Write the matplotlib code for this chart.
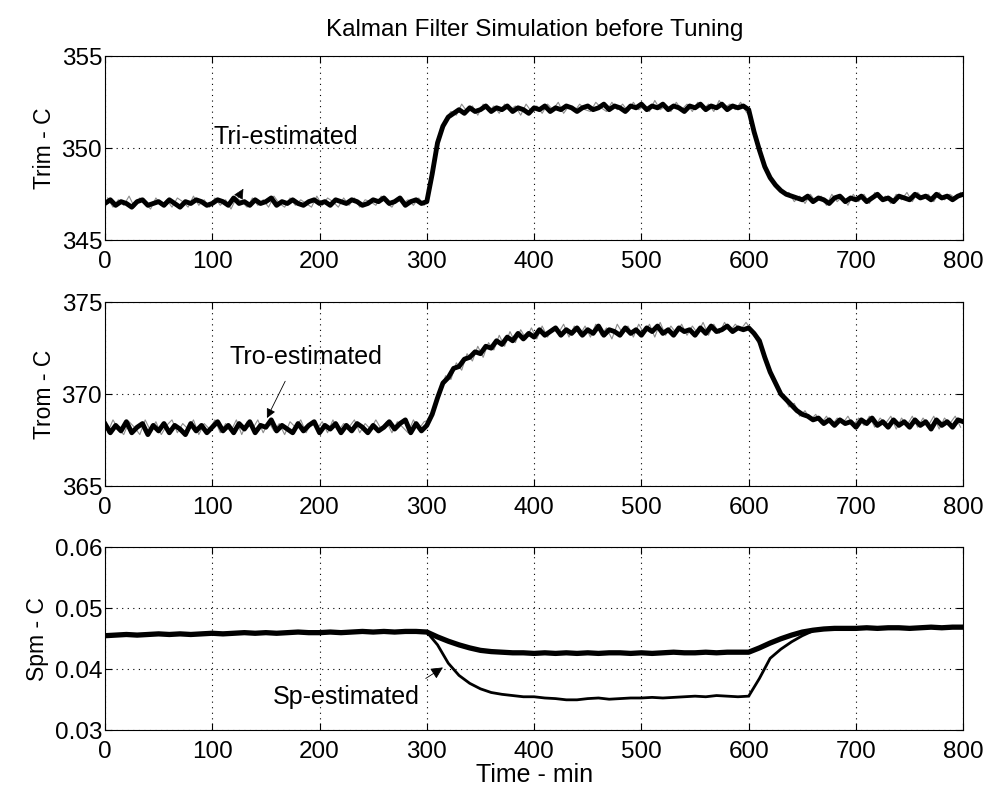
import numpy as np
import matplotlib
matplotlib.use('Agg')
import matplotlib.pyplot as plt

plt.rcParams['font.family'] = ['Liberation Sans', 'DejaVu Sans']

# time grids (min)
t_est = np.arange(0, 805, 5)
t_meas = np.arange(2.5, 800, 5)
t_sp = np.arange(0, 810, 10)

# Tri - estimated (thick) and measured (thin grey)
tri_est = [
    347.0, 347.2, 346.9, 347.1, 347.0, 346.8, 347.1, 347.2, 346.9, 347.0,
    347.1, 346.9, 347.2, 347.0, 346.8, 347.1, 347.0, 347.2, 347.1, 346.9,
    347.0, 347.2, 347.1, 346.9, 347.3, 347.0, 347.1, 346.9, 347.2, 347.0,
    347.1, 347.3, 346.9, 347.1, 347.0, 347.2, 347.0, 346.9, 347.1, 347.2,
    347.0, 347.1, 346.9, 347.2, 347.1, 347.0, 347.2, 347.1, 346.9, 347.0,
    347.2, 347.1, 347.3, 347.0, 347.1, 347.3, 346.9, 347.1, 347.2, 347.0,
    347.1, 348.6, 350.3, 351.2, 351.7, 351.9, 352.1, 351.9, 352.2, 352.0,
    352.1, 352.3, 352.0, 352.2, 352.1, 352.3, 352.0, 352.2, 352.1, 351.9,
    352.2, 352.1, 352.3, 352.0, 352.2, 352.1, 352.3, 352.2, 352.0, 352.2,
    352.3, 352.1, 352.2, 352.4, 352.1, 352.3, 352.2, 352.0, 352.3, 352.2,
    352.4, 352.1, 352.3, 352.2, 352.4, 352.1, 352.3, 352.2, 352.0, 352.3,
    352.2, 352.4, 352.1, 352.3, 352.2, 352.4, 352.1, 352.3, 352.2, 352.3,
    352.1, 350.9, 349.9, 349.0, 348.4, 348.0, 347.7, 347.5, 347.4, 347.3,
    347.2, 347.4, 347.1, 347.3, 347.2, 347.0, 347.3, 347.4, 347.1, 347.3,
    347.2, 347.4, 347.1, 347.3, 347.5, 347.2, 347.3, 347.1, 347.4, 347.3,
    347.2, 347.5, 347.3, 347.4, 347.2, 347.5, 347.3, 347.4, 347.2, 347.4,
    347.5,
]
tri_meas = [
    347.3, 346.8, 347.2, 346.9, 347.4, 346.8, 347.3, 347.0, 346.7, 347.3,
    346.9, 347.2, 346.8, 347.3, 347.1, 346.8, 347.4, 346.9, 347.2, 346.8,
    347.3, 346.9, 347.2, 346.7, 347.3, 347.1, 346.8, 347.3, 346.9, 347.2,
    346.8, 347.4, 347.0, 346.8, 347.3, 346.9, 347.2, 347.0, 346.8, 347.4,
    346.9, 347.3, 347.1, 346.8, 347.3, 346.9, 347.3, 346.8, 347.2, 347.1,
    346.9, 347.4, 347.0, 346.8, 347.3, 347.0, 347.2, 346.9, 347.3, 346.9,
    347.8, 349.6, 350.9, 351.6, 352.0, 351.8, 352.4, 352.0, 352.3, 351.8,
    352.4, 352.0, 352.3, 351.9, 352.4, 352.1, 352.3, 351.8, 352.4, 352.0,
    352.3, 351.9, 352.4, 352.1, 352.5, 351.9, 352.3, 352.0, 352.4, 352.1,
    352.0, 352.5, 352.2, 352.0, 352.5, 352.1, 352.4, 352.0, 352.5, 352.1,
    352.3, 352.0, 352.6, 352.1, 352.3, 352.0, 352.5, 352.1, 352.4, 352.0,
    352.5, 352.1, 352.4, 352.0, 352.6, 352.2, 352.4, 352.1, 352.5, 352.0,
    351.6, 350.3, 349.4, 348.6, 348.1, 347.9, 347.5, 347.6, 347.1, 347.4,
    347.0, 347.5, 347.1, 347.4, 346.9, 347.5, 347.1, 347.4, 346.9, 347.5,
    347.1, 347.5, 347.0, 347.6, 347.2, 347.4, 347.0, 347.5, 347.2, 347.6,
    347.1, 347.6, 347.3, 347.5, 347.1, 347.6, 347.2, 347.5, 347.3, 347.6,
]

# Tro - estimated (thick) and measured (thin grey)
tro_est = [
    368.4, 367.9, 368.3, 368.0, 368.5, 367.9, 368.2, 368.4, 367.8, 368.3,
    368.0, 368.4, 367.9, 368.3, 368.1, 367.8, 368.4, 368.0, 368.3, 367.9,
    368.2, 368.5, 368.0, 368.3, 367.9, 368.4, 368.1, 368.5, 367.9, 368.3,
    368.2, 368.6, 368.0, 368.3, 368.1, 367.9, 368.4, 368.0, 368.3, 368.5,
    367.9, 368.3, 368.1, 368.4, 367.9, 368.3, 368.0, 368.4, 368.2, 367.9,
    368.3, 368.0, 368.2, 368.5, 368.1, 368.4, 368.6, 367.9, 368.4, 368.0,
    368.3, 368.9, 369.8, 370.6, 370.9, 371.4, 371.5, 371.9, 372.0, 372.3,
    372.2, 372.6, 372.5, 372.9, 372.7, 373.1, 372.9, 373.3, 373.0, 373.3,
    373.1, 373.5, 373.2, 373.4, 373.6, 373.2, 373.5, 373.3, 373.6, 373.2,
    373.5, 373.3, 373.7, 373.2, 373.5, 373.4, 373.2, 373.6, 373.3, 373.5,
    373.2, 373.6, 373.4, 373.7, 373.3, 373.5, 373.2, 373.6, 373.4, 373.5,
    373.2, 373.6, 373.3, 373.7, 373.4, 373.5, 373.7, 373.4, 373.6, 373.5,
    373.6, 373.3, 372.9, 372.0, 371.2, 370.6, 370.0, 369.7, 369.4, 369.1,
    368.9, 368.8, 368.6, 368.7, 368.4, 368.6, 368.3, 368.6, 368.4, 368.5,
    368.2, 368.6, 368.4, 368.7, 368.3, 368.5, 368.2, 368.6, 368.3, 368.5,
    368.2, 368.6, 368.3, 368.5, 368.1, 368.6, 368.3, 368.5, 368.2, 368.6,
    368.5,
]
tro_meas = [
    367.9, 368.6, 368.1, 367.8, 368.5, 368.2, 367.8, 368.6, 368.0, 368.5,
    367.8, 368.3, 368.6, 367.9, 368.4, 368.1, 368.6, 367.8, 368.4, 368.1,
    368.6, 367.9, 368.4, 368.0, 368.6, 367.8, 368.5, 368.1, 368.6, 367.9,
    368.5, 368.0, 368.4, 367.8, 368.5, 368.2, 368.6, 367.9, 368.5, 368.1,
    368.5, 367.9, 368.6, 368.0, 368.4, 368.2, 368.6, 367.9, 368.4, 368.1,
    368.6, 368.1, 368.5, 367.9, 368.5, 368.2, 367.9, 368.6, 368.1, 368.5,
    368.6, 369.4, 370.1, 371.0, 370.8, 371.7, 371.3, 372.2, 371.8, 372.6,
    372.0, 372.8, 372.4, 373.2, 372.6, 373.4, 372.8, 373.5, 373.0, 373.6,
    373.0, 373.7, 373.1, 373.6, 373.3, 373.8, 373.1, 373.7, 373.2, 373.7,
    373.1, 373.8, 373.2, 373.6, 373.0, 373.8, 373.3, 373.7, 373.1, 373.8,
    373.3, 373.8, 373.1, 373.9, 373.2, 373.7, 373.3, 373.8, 373.2, 373.7,
    373.3, 373.9, 373.2, 373.8, 373.3, 373.9, 373.4, 373.8, 373.5, 373.9,
    373.5, 372.9, 372.5, 371.4, 371.0, 370.2, 369.9, 369.3, 369.5, 368.8,
    369.1, 368.6, 368.9, 368.4, 368.8, 368.3, 368.7, 368.4, 368.8, 368.3,
    368.7, 368.3, 368.8, 368.2, 368.7, 368.4, 368.8, 368.1, 368.7, 368.3,
    368.8, 368.2, 368.7, 368.3, 368.8, 368.1, 368.7, 368.4, 368.8, 368.2,
]

# Spm (thick) and Sp-estimated (thin)
spm = [
    0.0455, 0.0456, 0.0457, 0.0456, 0.0457, 0.0458, 0.0457, 0.0458, 0.0457, 0.0458,
    0.0459, 0.0458, 0.0459, 0.0460, 0.0459, 0.0460, 0.0459, 0.0460, 0.0461, 0.0460,
    0.0460, 0.0461, 0.0460, 0.0461, 0.0462, 0.0461, 0.0462, 0.0461, 0.0462, 0.0462,
    0.0461, 0.0453, 0.0446, 0.0440, 0.0435, 0.0431, 0.0429, 0.0428, 0.0427, 0.0427,
    0.0426, 0.0427, 0.0426, 0.0427, 0.0426, 0.0427, 0.0426, 0.0427, 0.0427, 0.0426,
    0.0427, 0.0426, 0.0427, 0.0428, 0.0427, 0.0427, 0.0428, 0.0427, 0.0428, 0.0428,
    0.0428, 0.0435, 0.0443, 0.0450, 0.0456, 0.0461, 0.0464, 0.0466, 0.0467, 0.0467,
    0.0467, 0.0468, 0.0467, 0.0468, 0.0468, 0.0467, 0.0468, 0.0469, 0.0468, 0.0469,
    0.0469,
]
sp_est = [
    0.0455, 0.0456, 0.0456, 0.0457, 0.0457, 0.0457, 0.0458, 0.0458, 0.0458, 0.0458,
    0.0459, 0.0459, 0.0459, 0.0459, 0.0460, 0.0460, 0.0460, 0.0460, 0.0460, 0.0461,
    0.0461, 0.0461, 0.0461, 0.0461, 0.0462, 0.0462, 0.0462, 0.0462, 0.0462, 0.0462,
    0.0461, 0.0440, 0.0410, 0.0390, 0.0377, 0.0368, 0.0362, 0.0359, 0.0357, 0.0355,
    0.0355, 0.0353, 0.0352, 0.0350, 0.0350, 0.0352, 0.0353, 0.0351, 0.0352, 0.0353,
    0.0353, 0.0354, 0.0353, 0.0354, 0.0355, 0.0356, 0.0355, 0.0357, 0.0356, 0.0355,
    0.0356, 0.0385, 0.0418, 0.0433, 0.0445, 0.0455, 0.0463, 0.0466, 0.0467, 0.0467,
    0.0467, 0.0468, 0.0467, 0.0468, 0.0468, 0.0467, 0.0468, 0.0469, 0.0468, 0.0469,
    0.0469,
]

xticks = [0, 100, 200, 300, 400, 500, 600, 700, 800]

fig = plt.figure(figsize=(9.9, 7.93), dpi=100)
ax1 = fig.add_axes([0.106, 0.697, 0.867, 0.232])
ax2 = fig.add_axes([0.106, 0.387, 0.867, 0.232])
ax3 = fig.add_axes([0.106, 0.079, 0.867, 0.231])


def style(ax, ylim, yticks, ylabel, fmt):
    ax.set_xlim(0, 800)
    ax.set_ylim(*ylim)
    ax.set_xticks(xticks)
    ax.set_yticks(yticks)
    ax.set_yticklabels([fmt % v for v in yticks])
    ax.grid(True, color='black', linestyle=(0, (1, 4)), linewidth=0.8)
    ax.tick_params(direction='in', top=True, right=True, labelsize=17.5,
                   length=5, width=0.8, pad=2)
    ax.tick_params(axis='x', pad=8)
    ax.set_ylabel(ylabel, fontsize=16.5, labelpad=4)
    for s in ax.spines.values():
        s.set_linewidth(0.8)


ax1.plot(t_meas, tri_meas, color='0.55', lw=0.8)
ax1.plot(t_est, tri_est, color='black', lw=3.5)
style(ax1, (345, 355), [345, 350, 355], 'Trim - C', '%d')
ax1.text(101, 350.6, 'Tri-estimated', fontsize=18, va='center')
ax1.annotate('', xy=(129, 347.8), xytext=(124, 347.3),
             arrowprops=dict(arrowstyle='-|>', color='black', lw=0.4,
                             mutation_scale=16, shrinkA=0, shrinkB=0))

ax2.plot(t_meas, tro_meas, color='0.55', lw=0.8)
ax2.plot(t_est, tro_est, color='black', lw=3.5)
style(ax2, (365, 375), [365, 370, 375], 'Trom - C', '%d')
ax2.text(116, 372.0, 'Tro-estimated', fontsize=18, va='center')
ax2.annotate('', xy=(151, 368.7), xytext=(168, 370.7),
             arrowprops=dict(arrowstyle='-|>', color='black', lw=0.6,
                             mutation_scale=14, shrinkA=0, shrinkB=0))

ax3.plot(t_sp, sp_est, color='black', lw=2)
ax3.plot(t_sp, spm, color='black', lw=3.8)
style(ax3, (0.03, 0.06), [0.03, 0.04, 0.05, 0.06], 'Spm - C', '%.2f')
ax3.text(156, 0.0354, 'Sp-estimated', fontsize=18, va='center')
ax3.annotate('', xy=(315, 0.0403), xytext=(299, 0.0385),
             arrowprops=dict(arrowstyle='-|>', color='black', lw=0.6,
                             mutation_scale=18, shrinkA=0, shrinkB=0))
ax3.set_xlabel('Time - min', fontsize=18, labelpad=0)

fig.text(0.54, 0.962, 'Kalman Filter Simulation before Tuning',
         fontsize=17.5, ha='center', va='center')

fig.savefig('out.png', dpi=100)
